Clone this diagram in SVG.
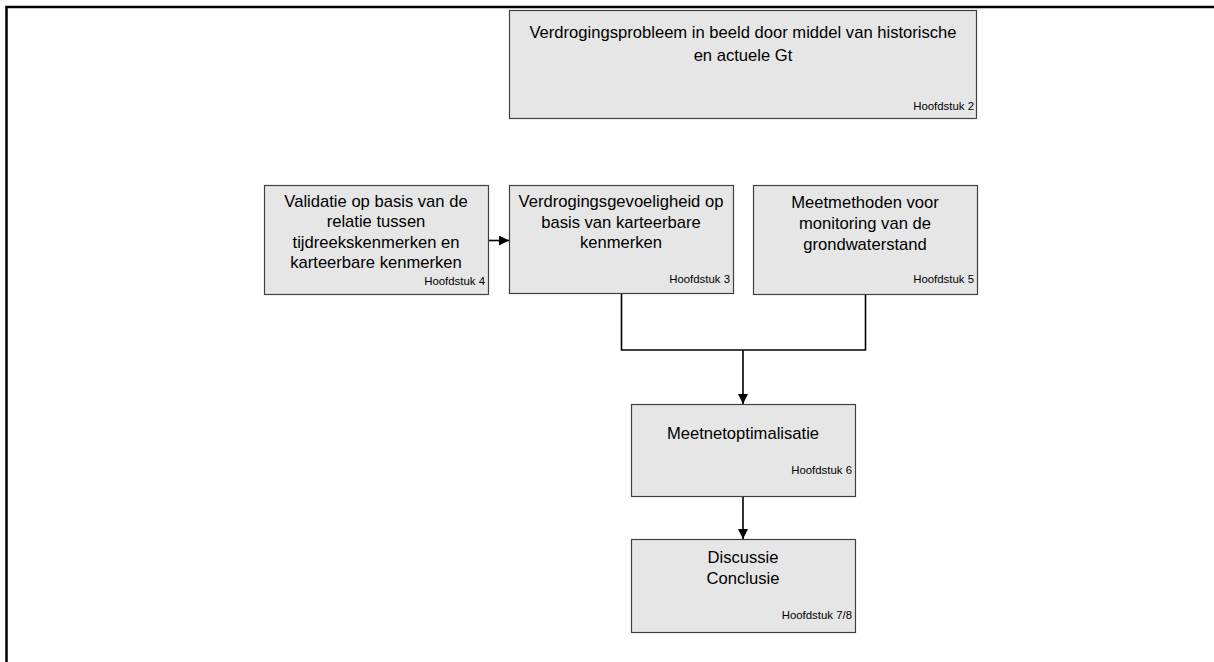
<svg xmlns="http://www.w3.org/2000/svg" width="1214" height="662" viewBox="0 0 1214 662">
<style>
.box{fill:#e6e6e6;stroke:#404040;stroke-width:1.2}
.t{font-family:"Liberation Sans",Arial,sans-serif;font-size:16.6px;fill:#000;text-anchor:middle}
.h{font-family:"Liberation Sans",Arial,sans-serif;font-size:11.4px;fill:#000;text-anchor:end}
.c{fill:none;stroke:#000;stroke-width:1.6}
</style>
<defs>
<marker id="ah" viewBox="0 0 10 10" refX="10" refY="5" markerWidth="10" markerHeight="10" markerUnits="userSpaceOnUse" orient="auto">
<path d="M0,0 L10,5 L0,10 Z" fill="#000"/>
</marker>
</defs>
<rect width="1214" height="662" fill="#fff"/>
<path d="M6.5,662 V7 H1214" fill="none" stroke="#000" stroke-width="2.5"/>
<g id="n2">
<rect class="box" x="509.5" y="10.5" width="467" height="108"/>
<text class="t" x="743" y="38">Verdrogingsprobleem in beeld door middel van historische</text>
<text class="t" x="743" y="60.5">en actuele Gt</text>
<text class="h" x="974" y="110">Hoofdstuk 2</text>
</g>
<g id="n4">
<rect class="box" x="264.5" y="185.5" width="224" height="109"/>
<text class="t" x="376" y="206.7">Validatie op basis van de</text>
<text class="t" x="376" y="227.2">relatie tussen</text>
<text class="t" x="376" y="247.7">tijdreekskenmerken en</text>
<text class="t" x="376" y="268.3">karteerbare kenmerken</text>
<text class="h" x="485" y="285">Hoofdstuk 4</text>
</g>
<g id="n3">
<rect class="box" x="509.5" y="185.5" width="224" height="108"/>
<text class="t" x="621" y="207">Verdrogingsgevoeligheid op</text>
<text class="t" x="621" y="227.5">basis van karteerbare</text>
<text class="t" x="621" y="248">kenmerken</text>
<text class="h" x="730" y="283">Hoofdstuk 3</text>
</g>
<g id="n5">
<rect class="box" x="753.5" y="185.5" width="224" height="109"/>
<text class="t" x="865" y="207.7">Meetmethoden voor</text>
<text class="t" x="865" y="228.8">monitoring van de</text>
<text class="t" x="865" y="249.5">grondwaterstand</text>
<text class="h" x="974" y="283">Hoofdstuk 5</text>
</g>
<g id="n6">
<rect class="box" x="631.5" y="404.5" width="224" height="92"/>
<text class="t" x="743" y="439">Meetnetoptimalisatie</text>
<text class="h" x="852" y="474">Hoofdstuk 6</text>
</g>
<g id="n7">
<rect class="box" x="631.5" y="539.5" width="224" height="93"/>
<text class="t" x="743" y="563">Discussie</text>
<text class="t" x="743" y="584">Conclusie</text>
<text class="h" x="852" y="619">Hoofdstuk 7/8</text>
</g>
<g id="connectors">
<path class="c" d="M489,240.5 H509" marker-end="url(#ah)"/>
<path class="c" d="M621.5,294 V350 H865.5 V295"/>
<path class="c" d="M743,350 V404" marker-end="url(#ah)"/>
<path class="c" d="M743,497 V539" marker-end="url(#ah)"/>
</g>
</svg>
